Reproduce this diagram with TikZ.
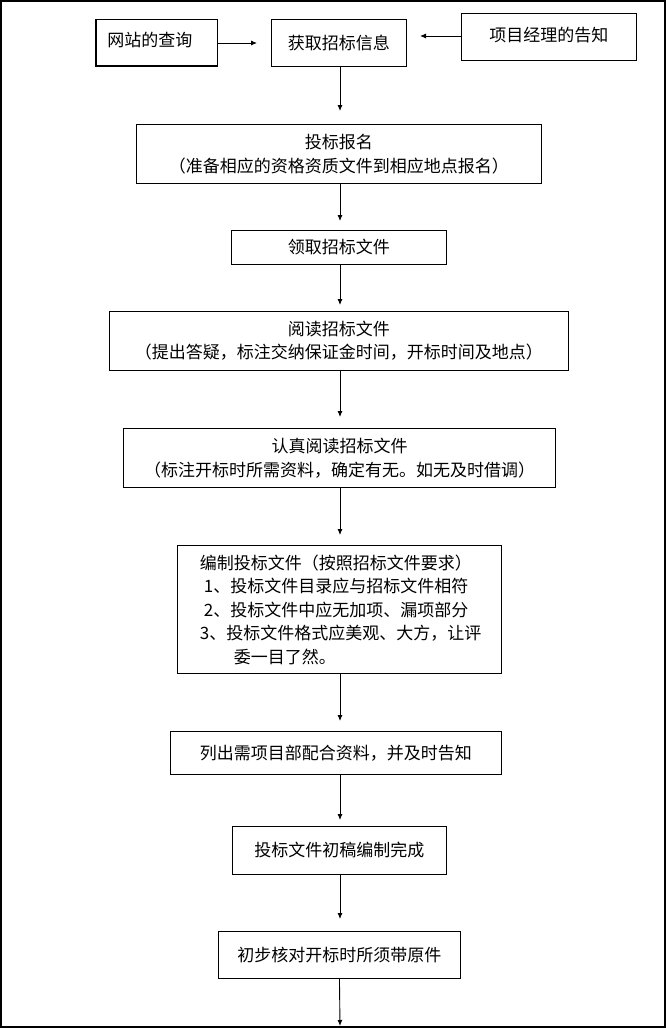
\documentclass[tikz,border=0pt]{standalone}
\usepackage{fontspec}
\setmainfont{Noto Sans CJK SC}
\usetikzlibrary{arrows.meta}
\begin{document}
\begin{tikzpicture}[x=1pt,y=-1pt,
  bx/.style={draw,line width=0.9pt,inner sep=0pt,font=\fontsize{17}{23.5}\selectfont,align=center},
  arr/.style={-{Latex[length=6pt,width=5pt]},line width=0.9pt}]
\useasboundingbox (0,0) rectangle (666,1028);
\draw[line width=1.5pt] (1,1) rectangle (665,1027);
\node[bx,minimum width=121,minimum height=47,anchor=north west,text width=115,align=left] (a) at (96,19) {\raisebox{8pt}{\hspace{8pt}网站的查询}};
\draw[line width=2pt] (96,19)--(96,66)--(217,66);
\node[bx,minimum width=135,minimum height=47,anchor=north west] (b) at (271,19) {获取招标信息};
\node[bx,minimum width=175,minimum height=47,anchor=north west] (c) at (461,13) {\raisebox{6pt}{项目经理的告知}};
\node[bx,minimum width=405,minimum height=59,anchor=north west] (d) at (136,124) {投标报名\\（准备相应的资格资质文件到相应地点报名）};
\node[bx,minimum width=215,minimum height=34,anchor=north west] (e) at (231,230) {领取招标文件};
\node[bx,minimum width=459,minimum height=59,anchor=north west] (f) at (109,311) {阅读招标文件\\（提出答疑，标注交纳保证金时间，开标时间及地点）};
\node[bx,line width=1.3pt,minimum width=432,minimum height=59,anchor=north west] (g) at (123,428) {认真阅读招标文件\\（标注开标时所需资料，确定有无。如无及时借调）};
\node[bx,line width=1.3pt,minimum width=324,minimum height=128,anchor=north west,align=left] (h) at (177,545) {\hspace{2pt}编制投标文件（按照招标文件要求）\\\hspace{6pt}1、投标文件目录应与招标文件相符\\\hspace{6pt}2、投标文件中应无加项、漏项部分\\\hspace{2pt}3、投标文件格式应美观、大方，让评\\\hspace{36pt}委一目了然。};
\node[bx,minimum width=331,minimum height=43,anchor=north west] (i) at (170,731) {列出需项目部配合资料，并及时告知};
\node[bx,minimum width=214,minimum height=48,anchor=north west] (j) at (232,826) {投标文件初稿编制完成};
\node[bx,minimum width=242,minimum height=47,anchor=north west] (k) at (218,931) {初步核对开标时所须带原件};
\coordinate (z) at (340,1026);
\draw[arr] (217,43) -- (257,43);
\draw[arr] (461,36) -- (420,36);
\draw[arr] (340,66) -- (340,111);
\draw[arr] (340,183) -- (340,221);
\draw[arr] (340,264) -- (340,305);
\draw[arr] (340,370) -- (340,417);
\draw[arr] (340,487) -- (340,535);
\draw[arr] (340,673) -- (340,721);
\draw[arr] (340,774) -- (340,820);
\draw[arr] (340,874) -- (340,919);
\draw[arr] (k.south) -- (z);
\end{tikzpicture}
\end{document}
